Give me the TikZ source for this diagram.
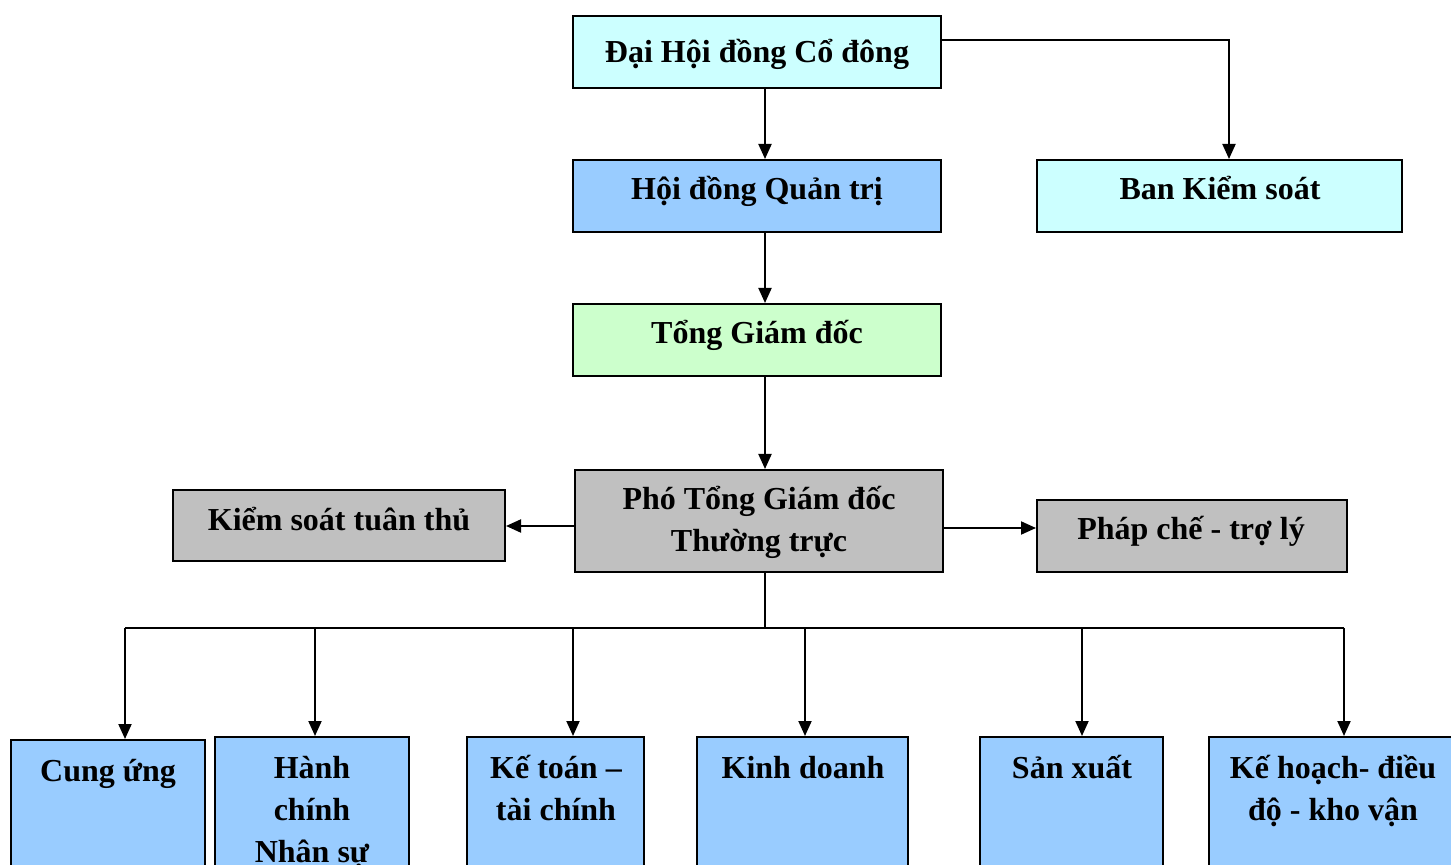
\documentclass[tikz,border=0pt]{standalone}
\usepackage{fontspec}
\setmainfont{Liberation Serif}
\usetikzlibrary{fit,arrows.meta}
\definecolor{cyanL}{HTML}{CCFFFF}
\definecolor{blueL}{HTML}{99CCFF}
\definecolor{greenL}{HTML}{CCFFCC}
\definecolor{grayL}{HTML}{C0C0C0}
\tikzset{
  box/.style={draw=black, line width=1pt, inner sep=0pt},
  lbl/.style={inner sep=0pt, font=\bfseries\fontsize{16}{20.5}\selectfont, anchor=base},
  conn/.style={line width=1pt, draw=black},
  arr/.style={conn, -{Triangle[length=7.5pt,width=6.5pt]}}
}
\begin{document}
\begin{tikzpicture}[x=0.5pt,y=-0.5pt]
\useasboundingbox (0,0) rectangle (1451,865);
\clip (0,0) rectangle (1451,865);
\fill[white] (0,0) rectangle (1451,865);
% top boxes
\node[box, fill=cyanL, fit={(573,16) (941,88)}] (dh) {};
\node[box, fill=blueL, fit={(573,160) (941,232)}] (hd) {};
\node[box, fill=cyanL, fit={(1037,160) (1402,232)}] (bk) {};
\node[box, fill=greenL, fit={(573,304) (941,376)}] (tg) {};
\node[box, fill=grayL, fit={(575,470) (943,572)}] (pt) {};
\node[box, fill=grayL, fit={(173,490) (505,561)}] (ks) {};
\node[box, fill=grayL, fit={(1037,500) (1347,572)}] (pc) {};
\node[lbl] (tdh) at (757,63) {Đại Hội đồng Cổ đông};
\node[lbl] (thd) at (757,200) {Hội đồng Quản trị};
\node[lbl] (tbk) at (1220,200) {Ban Kiểm soát};
\node[lbl] (ttg) at (757,344) {Tổng Giám đốc};
\node[lbl] (tpta) at (759,510) {Phó Tổng Giám đốc};
\node[lbl] (tptb) at (759,552) {Thường trực};
\node[lbl] (tks) at (339,531) {Kiểm soát tuân thủ};
\node[lbl] (tpc) at (1191,540) {Pháp chế - trợ lý};
% bottom boxes
\node[box, fill=blueL, fit={(11,740) (205,890)}] (c1) {};
\node[box, fill=blueL, fit={(215,737) (409,890)}] (c2) {};
\node[box, fill=blueL, fit={(467,737) (644,890)}] (c3) {};
\node[box, fill=blueL, fit={(697,737) (908,890)}] (c4) {};
\node[box, fill=blueL, fit={(980,737) (1163,890)}] (c5) {};
\node[box, fill=blueL, fit={(1209,737) (1457,890)}] (c6) {};
\node[lbl] (t1) at (108,781) {Cung ứng};
\node[lbl] (t2a) at (312,778) {Hành};
\node[lbl] (t2b) at (312,820) {chính};
\node[lbl] (t2c) at (312,862) {Nhân sự};
\node[lbl] (t3a) at (556,778) {Kế toán –};
\node[lbl] (t3b) at (556,820) {tài chính};
\node[lbl] (t4) at (803,778) {Kinh doanh};
\node[lbl] (t5) at (1072,778) {Sản xuất};
\node[lbl] (t6a) at (1333,778) {Kế hoạch- điều};
\node[lbl] (t6b) at (1333,820) {độ - kho vận};
% connectors
\coordinate (sp) at (765,0);
\coordinate (k1) at (1229,40);
\draw[arr] (dh.south -| sp) -- (hd.north -| sp);
\draw[arr] (hd.south -| sp) -- (tg.north -| sp);
\draw[arr] (tg.south -| sp) -- (pt.north -| sp);
\draw[arr] (dh.east |- k1) -- (k1) -- (k1 |- bk.north);
\coordinate (kl) at (0,526);
\coordinate (pl) at (0,528);
\draw[arr] (pt.west |- kl) -- (ks.east |- kl);
\draw[arr] (pt.east |- pl) -- (pc.west |- pl);
% bus
\coordinate (bm) at (765,628);
\coordinate (b1) at (125,628);
\coordinate (b2) at (315,628);
\coordinate (b3) at (573,628);
\coordinate (b4) at (805,628);
\coordinate (b5) at (1082,628);
\coordinate (b6) at (1344,628);
\draw[conn] (pt.south -| bm) -- (bm);
\draw[conn] (b1) -- (b6);
\draw[arr] (b1) -- (b1 |- c1.north);
\draw[arr] (b2) -- (b2 |- c2.north);
\draw[arr] (b3) -- (b3 |- c3.north);
\draw[arr] (b4) -- (b4 |- c4.north);
\draw[arr] (b5) -- (b5 |- c5.north);
\draw[arr] (b6) -- (b6 |- c6.north);
\end{tikzpicture}
\end{document}
